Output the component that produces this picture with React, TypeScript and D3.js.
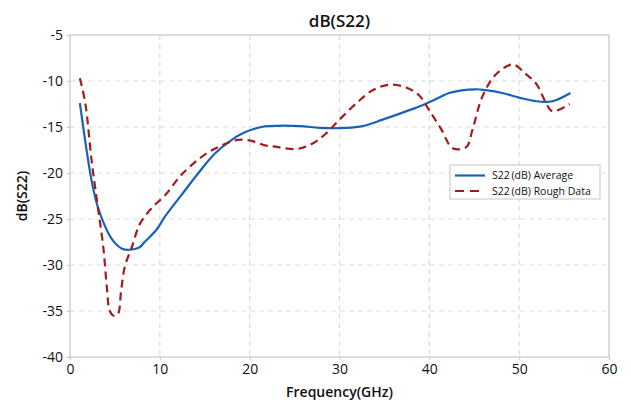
import { useEffect, useRef } from 'react';
import * as d3 from 'd3';

const W = 631;
const H = 405;
const MARGIN = { top: 35, right: 22, bottom: 48, left: 70 };

const xTicks = [0, 10, 20, 30, 40, 50, 60];
const yTicks = [-5, -10, -15, -20, -25, -30, -35, -40];

// S22 (dB) Average
const avgFreq = [1.1, 2.4, 3.1, 4.3, 5.0, 6.0, 7.7, 8.3, 9.6, 10.6, 12.4, 14.3, 16.1, 18.0, 19.4, 21.3, 22.2, 25.6, 27.8, 30.7, 32.6, 34.8, 37.4, 39.3, 41.1, 42.2, 45.2, 46.3, 48.1, 50.0, 51.9, 53.7, 55.7];
const avgDb = [-12.4, -20.8, -23.7, -26.6, -27.6, -28.3, -28.1, -27.5, -26.2, -24.7, -22.4, -20.0, -17.9, -16.4, -15.6, -15.0, -14.9, -14.9, -15.1, -15.1, -14.9, -14.2, -13.3, -12.6, -11.8, -11.3, -10.9, -11.0, -11.3, -11.8, -12.2, -12.2, -11.3];

// S22 (dB) Rough Data
const roughFreq = [1.1, 1.7, 2.4, 3.1, 3.7, 4.1, 4.4, 4.8, 5.3, 5.7, 6.1, 6.9, 7.8, 9.1, 10.6, 12.4, 15.0, 16.9, 18.7, 20.2, 21.7, 22.6, 25.2, 27.0, 28.5, 30.0, 31.9, 33.7, 35.6, 37.4, 38.9, 40.0, 41.3, 42.6, 44.1, 44.8, 45.9, 47.4, 49.3, 50.7, 51.9, 53.0, 53.7, 55.6];
const roughDb = [-9.7, -12.4, -18.6, -23.7, -28.0, -32.4, -34.9, -35.5, -35.4, -32.7, -30.2, -28.0, -25.5, -23.8, -22.4, -20.2, -18.0, -17.0, -16.4, -16.5, -17.0, -17.1, -17.4, -16.8, -15.7, -14.2, -12.4, -11.0, -10.4, -10.7, -11.6, -13.2, -15.2, -17.3, -17.2, -15.3, -11.7, -9.3, -8.2, -9.2, -10.3, -12.4, -13.3, -12.5];

const BLUE = '#1763b8';
const RED = '#a31b1b';
const FONT = '"Open Sans", "Noto Sans", sans-serif';

export default function App() {
  const svgRef = useRef<SVGSVGElement>(null);

  useEffect(() => {
    if (!svgRef.current) return;
    const svg = d3.select(svgRef.current);
    svg.selectAll('*').remove();

    const innerW = W - MARGIN.left - MARGIN.right;
    const innerH = H - MARGIN.top - MARGIN.bottom;

    const x = d3.scaleLinear().domain([0, 60]).range([0, innerW]);
    const y = d3.scaleLinear().domain([-40, -5]).range([innerH, 0]);

    const g = svg.append('g').attr('transform', `translate(${MARGIN.left},${MARGIN.top})`);

    // ── Grid ─────────────────────────────────────────────────────────────
    const grid = g.append('g').attr('class', 'grid');
    xTicks.slice(1, -1).forEach(t => {
      grid.append('line')
        .attr('x1', x(t)).attr('x2', x(t))
        .attr('y1', 0).attr('y2', innerH)
        .attr('stroke', '#dcdcdc').attr('stroke-width', 1.2)
        .attr('stroke-dasharray', '5,4');
    });
    yTicks.slice(1, -1).forEach(t => {
      grid.append('line')
        .attr('x1', 0).attr('x2', innerW)
        .attr('y1', y(t)).attr('y2', y(t))
        .attr('stroke', '#dcdcdc').attr('stroke-width', 1.2)
        .attr('stroke-dasharray', '5,4');
    });

    // ── Frame ────────────────────────────────────────────────────────────
    g.append('rect')
      .attr('width', innerW).attr('height', innerH)
      .attr('fill', 'none').attr('stroke', '#c6c6c6').attr('stroke-width', 1.2);

    // ── Axes ─────────────────────────────────────────────────────────────
    g.append('g')
      .attr('transform', `translate(0,${innerH})`)
      .call(d3.axisBottom(x).tickValues(xTicks).tickSize(3).tickPadding(4).tickFormat(d => String(d)))
      .call(a => {
        a.select('.domain').remove();
        a.selectAll('.tick line').attr('stroke', '#c6c6c6');
        a.selectAll('text').attr('fill', '#111').attr('font-size', 14).attr('font-family', FONT);
      });

    g.append('g')
      .call(d3.axisLeft(y).tickValues(yTicks).tickSize(3).tickPadding(4).tickFormat(d => String(d)))
      .call(a => {
        a.select('.domain').remove();
        a.selectAll('.tick line').attr('stroke', '#c6c6c6');
        a.selectAll('text').attr('fill', '#111').attr('font-size', 14).attr('font-family', FONT);
      });

    // ── Series ───────────────────────────────────────────────────────────
    const line = d3.line<[number, number]>()
      .x(d => x(d[0]))
      .y(d => y(d[1]))
      .curve(d3.curveCatmullRom.alpha(0.5));

    const avgPts = avgFreq.map((f, i) => [f, avgDb[i]] as [number, number]);
    const roughPts = roughFreq.map((f, i) => [f, roughDb[i]] as [number, number]);

    g.append('path')
      .attr('d', line(avgPts))
      .attr('fill', 'none').attr('stroke', BLUE).attr('stroke-width', 2.2);

    g.append('path')
      .attr('d', line(roughPts))
      .attr('fill', 'none').attr('stroke', RED).attr('stroke-width', 2.2)
      .attr('stroke-dasharray', '8,5');

    // ── Legend ───────────────────────────────────────────────────────────
    const legend = svg.append('g').attr('transform', 'translate(450,165)');
    legend.append('rect')
      .attr('width', 150).attr('height', 34)
      .attr('fill', '#fff').attr('stroke', '#c6c6c6').attr('stroke-width', 1);
    const items = [
      { label: 'S22\u2009(dB) Average', color: BLUE, dash: null },
      { label: 'S22\u2009(dB) Rough Data', color: RED, dash: '9,6' },
    ];
    items.forEach((it, i) => {
      const yy = 10.5 + i * 15.5;
      legend.append('line')
        .attr('x1', 5).attr('x2', 35).attr('y1', yy).attr('y2', yy)
        .attr('stroke', it.color).attr('stroke-width', 2.2)
        .attr('stroke-dasharray', it.dash);
      legend.append('text')
        .attr('x', 42).attr('y', yy + 3.8)
        .attr('font-size', 10.5).attr('font-family', FONT).attr('fill', '#111')
        .text(it.label);
    });

    // ── Titles ───────────────────────────────────────────────────────────
    svg.append('text')
      .attr('x', MARGIN.left + innerW / 2).attr('y', 27)
      .attr('text-anchor', 'middle')
      .attr('font-size', 17).attr('font-weight', 600).attr('font-family', FONT).attr('fill', '#111')
      .text('dB(S22)');

    svg.append('text')
      .attr('x', MARGIN.left + innerW / 2).attr('y', 397)
      .attr('text-anchor', 'middle')
      .attr('font-size', 14).attr('font-weight', 600).attr('font-family', FONT).attr('fill', '#111')
      .text('Frequency(GHz)');

    svg.append('text')
      .attr('transform', `translate(27,${MARGIN.top + innerH / 2}) rotate(-90)`)
      .attr('text-anchor', 'middle')
      .attr('font-size', 14).attr('font-weight', 600).attr('font-family', FONT).attr('fill', '#111')
      .text('dB(S22)');
  }, []);

  return (
    <svg
      ref={svgRef}
      width={W}
      height={H}
      style={{ position: 'absolute', left: 0, top: 0, background: '#fff' }}
    />
  );
}
